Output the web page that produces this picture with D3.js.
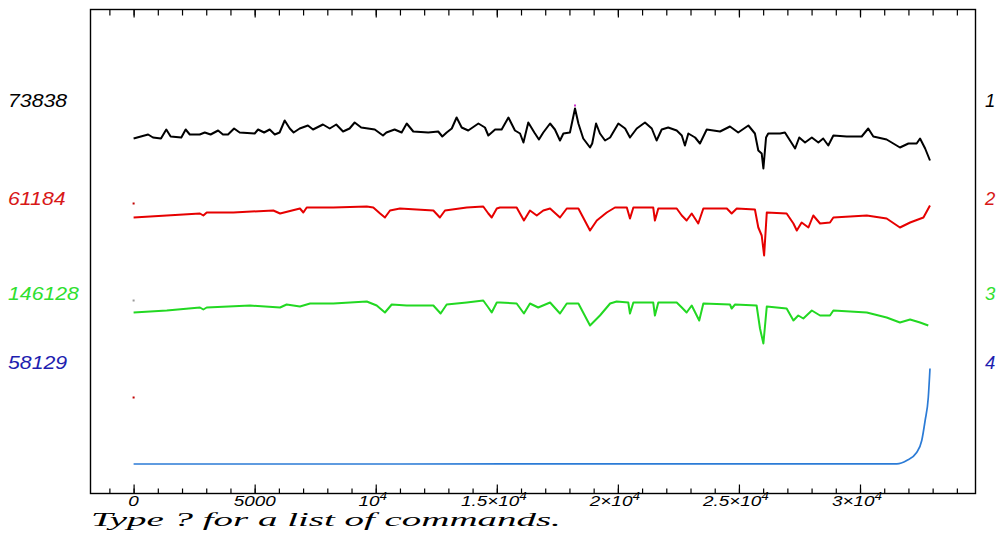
<!DOCTYPE html>
<html>
<head>
<meta charset="utf-8">
<script src="https://cdn.jsdelivr.net/npm/d3@7/dist/d3.min.js"></script>
<style>
  html, body { margin: 0; padding: 0; background: #fff; }
  svg { display: block; }
</style>
</head>
<body>
<svg id="chart" width="997" height="548"></svg>
<script>
// --- data (x = sample index, y = trace level) ---
const s1Idx = [0, 300, 600, 800, 1130, 1350, 1530, 1970, 2150, 2320,
  2730, 2940, 3180, 3490, 3690, 3900, 4150, 4380, 5000, 5140,
  5390, 5620, 5830, 6030, 6240, 6450, 6610, 6860, 7200, 7410,
  7820, 8100, 8370, 8650, 8920, 9130, 9400, 9960, 10300, 10440,
  10780, 11070, 11280, 11550, 12170, 12580, 12750, 12930, 13140, 13340,
  13550, 13820, 14240, 14510, 14650, 14930, 15200, 15480, 15750, 15960,
  16100, 16300, 16550, 16740, 16920, 17200, 17400, 17610, 17750, 18020,
  18230, 18370, 18570, 18850, 18940, 19100, 19260, 19470, 19680, 20020,
  20300, 20500, 20780, 21120, 21400, 21600, 21810, 22080, 22430, 22640,
  22770, 22910, 23190, 23390, 23670, 24220, 24630, 24970, 25390, 25660,
  25800, 25940, 26010, 26120, 26210, 26700, 26900, 27110, 27320, 27490,
  27730, 28010, 28280, 28480, 28690, 28900, 29450, 30070, 30340, 30550,
  31100, 31650, 32000, 32340, 32480, 32690, 32890];
const s1Val = [355, 357, 359, 356, 355, 364, 357, 356, 364, 359,
  359, 361, 359, 363, 359, 359, 365, 361, 360, 364,
  361, 364, 359, 361, 373, 365, 361, 365, 368, 364,
  369, 365, 369, 362, 365, 371, 366, 364, 358, 361,
  364, 361, 370, 362, 361, 362, 357, 361, 365, 376,
  366, 363, 370, 366, 358, 364, 364, 376, 363, 360,
  351, 371, 361, 354, 361, 370, 364, 353, 360, 361,
  385, 370, 355, 346, 350, 370, 360, 353, 356, 370,
  365, 356, 365, 371, 365, 353, 364, 366, 363, 358,
  348, 360, 356, 350, 364, 362, 367, 361, 368, 360,
  343, 340, 325, 356, 360, 360, 361, 353, 345, 356,
  351, 356, 351, 355, 348, 358, 357, 357, 365, 357,
  354, 346, 350, 350, 355, 345, 333];

const s2Idx = [0, 2740, 2880, 3020, 4120, 5770, 6050, 6870, 7010, 7150,
  8250, 9630, 9900, 10180, 10380, 10590, 11000, 12380, 12650, 12860,
  13760, 14440, 14650, 14790, 15000, 15130, 15820, 16120, 16370, 16650,
  16920, 17200, 17610, 17890, 18370, 18850, 19130, 19540, 19880, 20370,
  20500, 20640, 21460, 21530, 21670, 22430, 22640, 22840, 23050, 23320,
  23530, 24500, 24700, 24910, 25660, 25800, 25940, 26040, 26150, 26970,
  27250, 27390, 27590, 27870, 28070, 28350, 28760, 28900, 30280, 31100,
  31650, 32070, 32620, 32890];
const s2Val = [276, 280, 278, 281, 281, 283, 280, 285, 281, 286,
  286, 287, 286, 280, 276, 283, 285, 283, 276, 283,
  286, 287, 280, 276, 285, 286, 286, 273, 283, 278,
  283, 285, 276, 285, 285, 263, 273, 281, 286, 286,
  275, 286, 286, 273, 285, 285, 278, 273, 280, 270,
  285, 285, 280, 285, 284, 266, 258, 238, 281, 280,
  270, 263, 271, 266, 278, 270, 271, 276, 278, 275,
  266, 271, 276, 288];

const s3Idx = [0, 1370, 2740, 2880, 3020, 4810, 6050, 6320, 6870, 7290,
  8250, 9630, 10040, 10380, 10660, 11280, 12380, 12680, 12930, 13760,
  14440, 14650, 14790, 15000, 15130, 15820, 16120, 16370, 16710, 17200,
  17610, 17890, 18370, 18850, 19260, 19680, 19950, 20430, 20500, 20640,
  21460, 21530, 21670, 22430, 22640, 22840, 23050, 23360, 23530, 24630,
  24700, 24840, 25730, 25870, 26010, 26150, 26970, 27250, 27450, 27660,
  28010, 28350, 28760, 28900, 30280, 31100, 31650, 32070, 32480, 32820];
const s3Val = [181, 183, 186, 184, 186, 188, 186, 189, 187, 190,
  190, 192, 188, 181, 189, 188, 188, 180, 189, 191,
  193, 186, 181, 191, 191, 190, 180, 190, 186, 191,
  180, 190, 190, 168, 178, 190, 192, 191, 180, 191,
  191, 178, 191, 191, 186, 181, 188, 173, 190, 189,
  185, 189, 188, 165, 150, 187, 185, 173, 178, 175,
  183, 178, 178, 183, 181, 176, 171, 174, 171, 168];

const s4Idx = [0, 11000, 31520, 31930, 32340, 32550, 32690, 32820, 32890];
const s4Val = [29.5, 29.5, 29.7, 33, 41, 53, 73, 96, 125];

// odd single points
const strayIdx = [0, 0, 0, 18230];
const strayVal = [290, 193, 96, 388];

const leftLabels = ['73838', '61184', '146128', '58129'];
const rightLabels = ['1', '2', '3', '4'];
const majorTicks = [0, 5000, 10000, 15000, 20000, 25000, 30000];
const tickLabels = ['0', '5000', '10^4', '1.5×10^4', '2×10^4', '2.5×10^4', '3×10^4'];
const minorTicks = d3.range(-1000, 34001, 1000);
const prompt = 'Type ? for a list of commands.';

// --- layout / style ---
const COLORS = ['#000000', '#e60000', '#22d822', '#2b7bd6'];
const LABEL_COLORS = ['#000000', '#d81818', '#2fe02f', '#1e1eb0'];
const STRAY_COLORS = ['#c00000', '#999999', '#c00000', '#cc33cc'];
const LABEL_LEVELS = [393, 295, 200, 131];

const svg = d3.select('#chart');
const x = d3.scaleLinear().domain([-1780, 34770]).range([90.5, 975.5]);
const y = d3.scaleLinear().domain([0, 484]).range([493.5, 9.5]);

// frame
svg.append('rect')
  .attr('x', 90.5).attr('y', 9.5)
  .attr('width', 885).attr('height', 484)
  .attr('fill', 'none').attr('stroke', '#000').attr('stroke-width', 1.4);

function ticks(axisFn, vals, size, ty) {
  const g = svg.append('g')
    .attr('transform', `translate(0,${ty})`)
    .call(axisFn(x).tickValues(vals).tickSizeInner(size).tickSizeOuter(0).tickFormat(''));
  g.select('.domain').remove();
  g.selectAll('line').attr('stroke', '#000').attr('stroke-width', 1.2);
}
ticks(d3.axisBottom, minorTicks, -5, 493.5);
ticks(d3.axisBottom, majorTicks, -9, 493.5);
ticks(d3.axisTop, minorTicks, -6, 9.5);
ticks(d3.axisTop, majorTicks, -8, 9.5);

// traces
const series = [[s1Idx, s1Val], [s2Idx, s2Val], [s3Idx, s3Val], [s4Idx, s4Val]];
series.forEach(([idx, val], i) => {
  const pts = idx.map((d, k) => [d, val[k]]);
  const line = d3.line()
    .x(d => x(d[0])).y(d => y(d[1]))
    .curve(i === 3 ? d3.curveMonotoneX : d3.curveLinear);
  svg.append('path')
    .datum(pts)
    .attr('d', line)
    .attr('fill', 'none')
    .attr('stroke', COLORS[i])
    .attr('stroke-width', i === 3 ? 1.7 : 2)
    .attr('stroke-linejoin', 'round');
});

svg.append('g').selectAll('rect')
  .data(strayIdx.map((d, k) => [d, strayVal[k], k]))
  .join('rect')
  .attr('x', d => x(d[0]) - 1).attr('y', d => y(d[1]) - 1)
  .attr('width', 2).attr('height', 2)
  .attr('fill', d => STRAY_COLORS[d[2]]);

// side labels
leftLabels.forEach((t, i) => {
  svg.append('g')
    .attr('transform', `translate(8,${y(LABEL_LEVELS[i]) + 6.5}) scale(1.15,1)`)
    .append('text')
    .attr('font-family', 'Liberation Sans, Arial, sans-serif')
    .attr('font-style', 'italic')
    .attr('font-size', 18.5)
    .attr('fill', LABEL_COLORS[i])
    .text(t);
});
rightLabels.forEach((t, i) => {
  svg.append('text')
    .attr('x', 985).attr('y', y(LABEL_LEVELS[i]) + 6.5)
    .attr('font-family', 'Liberation Sans, Arial, sans-serif')
    .attr('font-style', 'italic')
    .attr('font-size', 18.5)
    .attr('fill', LABEL_COLORS[i])
    .text(t);
});

// bottom tick labels
majorTicks.forEach((v, i) => {
  const parts = tickLabels[i].split('^');
  const tx = svg.append('g')
    .attr('transform', `translate(${x(v) - (parts[1] ? 3 : 0)},505.5) scale(1.35,1)`)
    .append('text')
    .attr('text-anchor', 'middle')
    .attr('font-family', 'Liberation Sans, Arial, sans-serif')
    .attr('font-style', 'italic')
    .attr('font-size', 14)
    .attr('fill', '#000');
  tx.append('tspan').text(parts[0]);
  if (parts[1]) {
    tx.append('tspan').attr('dy', -6).attr('font-size', 10).text(parts[1]);
  }
});

// command prompt line
const pg = svg.append('g');
const pt = pg.append('text')
  .attr('font-family', 'Liberation Serif, Times New Roman, serif')
  .attr('font-style', 'italic')
  .attr('font-size', 18.5)
  .attr('fill', '#000')
  .text(prompt);
const pw = pt.node().getComputedTextLength();
pg.attr('transform', `translate(91,525.5) scale(${470 / pw},1)`);
</script>
</body>
</html>
